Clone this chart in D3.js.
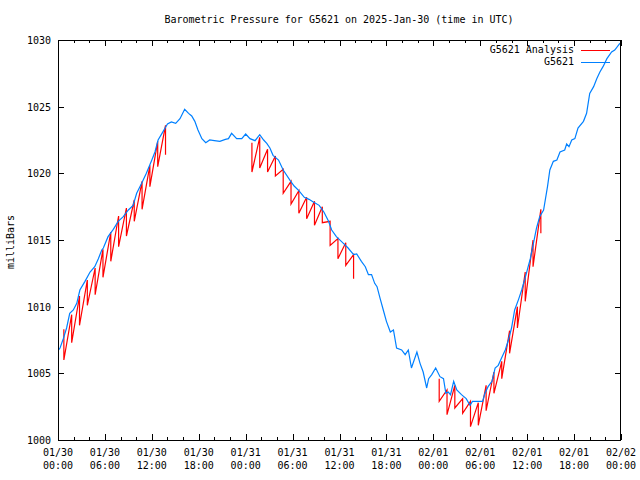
<!DOCTYPE html>
<html><head><meta charset="utf-8">
<script src="https://cdn.jsdelivr.net/npm/d3@7"></script>
<style>
body{margin:0;background:#fff}
text{font-family:"DejaVu Sans Mono",monospace;font-size:10px;fill:#000}
</style>
</head><body><svg id="c" width="640" height="480"></svg>
<script>
const title = "Barometric Pressure for G5621 on 2025-Jan-30 (time in UTC)";
const yLabel = "milliBars";
const seriesNames = ["G5621 Analysis", "G5621"];
const startDate = "2025-01-30T00:00:00Z";
const endDate = "2025-02-02T00:00:00Z";
const yTicks = [1000, 1005, 1010, 1015, 1020, 1025, 1030];

// Observed series (hours after start, mb)
const obsHours = [0.0,0.26,0.68,1.1,1.5,1.96,2.4,2.8,3.45,4.1,4.7,5.16,5.6,5.8,6.4,7.07,7.7,8.35,9.0,9.6,10.06,10.7,11.3,12.0,12.4,12.8,13.3,13.7,14.0,14.5,15.05,15.6,16.2,16.7,17.1,17.5,17.9,18.4,18.9,19.4,20.0,20.7,21.4,21.8,22.2,22.85,23.5,24.0,24.55,25.2,25.8,26.3,26.7,27.1,27.5,28.2,28.8,29.7,30.2,30.8,31.5,32.1,32.65,33.4,34.0,34.6,35.0,35.6,36.5,37.1,37.8,38.2,38.8,39.3,39.7,40.1,40.5,40.8,41.2,41.6,42.0,42.5,42.9,43.3,43.95,44.4,44.8,45.2,45.9,46.3,46.7,47.15,47.4,47.8,48.3,48.85,49.3,49.6,49.9,50.2,50.6,51.0,51.6,52.2,52.7,53.0,53.5,54.0,54.3,54.6,55.0,55.5,55.9,56.3,56.8,57.2,57.6,58.0,58.4,58.9,59.3,59.9,60.4,60.8,61.2,61.6,62.1,62.6,62.9,63.35,63.8,64.2,64.8,65.05,65.35,65.7,66.1,66.5,67.2,67.6,68.0,68.5,68.9,69.3,69.7,70.2,70.8,71.2,71.8,72.0];
const obsValues = [1006.7,1006.9,1007.6,1008.4,1009.5,1009.75,1010.25,1011.25,1011.9,1012.6,1013.0,1013.6,1014.25,1014.4,1015.25,1015.8,1016.4,1016.75,1017.25,1017.6,1018.5,1019.25,1020.0,1021.0,1021.6,1022.5,1023.0,1023.4,1023.7,1023.85,1023.75,1024.1,1024.8,1024.5,1024.3,1023.9,1023.25,1022.6,1022.3,1022.5,1022.45,1022.4,1022.55,1022.6,1023.0,1022.6,1022.6,1022.95,1022.6,1022.45,1022.9,1022.5,1022.25,1021.9,1021.35,1021.0,1020.25,1019.45,1019.05,1018.7,1018.2,1018.05,1017.85,1017.6,1017.1,1016.4,1015.75,1015.25,1014.75,1014.4,1013.9,1013.95,1013.4,1013.0,1012.4,1012.4,1011.75,1011.5,1010.6,1009.75,1008.9,1008.1,1008.25,1006.9,1006.75,1006.4,1006.75,1005.4,1006.6,1005.75,1005.1,1003.9,1004.6,1004.9,1005.4,1004.75,1004.6,1003.5,1003.6,1003.4,1004.4,1003.75,1003.4,1003.1,1002.6,1002.9,1002.9,1002.9,1002.9,1003.5,1004.0,1004.4,1005.4,1005.6,1006.25,1006.75,1007.5,1008.4,1009.75,1010.55,1011.25,1012.5,1013.6,1014.75,1015.9,1016.75,1017.25,1019.0,1020.25,1020.9,1021.0,1021.6,1021.75,1022.2,1022.0,1022.5,1022.6,1023.4,1023.9,1024.5,1026.0,1026.5,1027.1,1027.6,1028.0,1028.6,1029.1,1029.25,1029.7,1029.8];

// Analysis series: at each hour a high value and a low value
const anaHours = [0.75,1.75,2.75,3.75,4.75,5.75,6.75,7.75,8.75,9.75,10.75,11.75,12.75,13.75,
  24.8,25.8,26.8,27.8,28.8,29.8,30.8,31.8,32.8,33.8,34.8,35.8,36.8,37.8,
  48.75,49.75,50.75,51.75,52.75,53.75,54.75,55.75,56.75,57.75,58.75,59.75,60.75,61.75];
const anaHigh = [1008.3,1009.4,1010.8,1012.0,1012.9,1014.3,1015.6,1016.8,1017.4,1018.0,1019.4,1020.6,1022.4,1023.6,
  1022.3,1022.7,1021.8,1021.3,1020.3,1019.4,1018.7,1018.2,1017.9,1017.5,1016.4,1015.1,1014.8,1013.9,
  1004.6,1003.75,1004.1,1003.1,1002.9,1002.8,1004.1,1005.1,1005.9,1008.2,1010.0,1012.6,1015.0,1017.3];
const anaLow = [1006.0,1007.3,1008.6,1010.1,1010.9,1012.2,1013.4,1014.5,1015.3,1016.4,1017.3,1019.0,1020.5,1021.4,
  1020.1,1020.4,1020.1,1019.8,1018.5,1017.7,1017.0,1016.6,1016.1,1016.3,1014.6,1013.6,1013.1,1012.1,
  1002.9,1001.9,1002.4,1002.0,1001.0,1001.1,1002.2,1003.5,1004.6,1006.5,1008.4,1010.4,1013.0,1015.5];

const colors = ["#ff0000", "#0080ff"];

const svg = d3.select("#c");
const L = 58, R = 621, T = 40, B = 440;
const t0 = new Date(startDate), t1 = new Date(endDate);
const toDate = h => new Date(t0.getTime() + h * 3600e3);
const x = d3.scaleUtc().domain([t0, t1]).range([L, R]);
const y = d3.scaleLinear().domain([1000, 1030]).range([B, T]);

svg.append("rect").attr("width", 640).attr("height", 480).attr("fill", "#fff");

// Title & y label
svg.append("text").attr("x", 339).attr("y", 20).attr("text-anchor", "middle")
  .attr("dominant-baseline", "middle").text(title);
svg.append("text").attr("transform", "translate(11,242) rotate(-90)")
  .attr("text-anchor", "middle").attr("dominant-baseline", "middle").text(yLabel);

// Axes ticks (inward, mirrored)
const majorX = x.ticks(d3.utcHour.every(6));
const minorX = x.ticks(d3.utcHour.every(2));
const axG = svg.append("g").attr("shape-rendering", "crispEdges");
function tickLines(g, axis) { g.call(axis); g.select(".domain").remove(); g.selectAll("text").remove(); g.selectAll("line").attr("stroke", "#000"); }
axG.append("g").attr("transform", `translate(0,${B})`).call(g => tickLines(g, d3.axisBottom(x).tickValues(minorX).tickSize(-3)));
axG.append("g").attr("transform", `translate(0,${T})`).call(g => tickLines(g, d3.axisTop(x).tickValues(minorX).tickSize(-3)));
axG.append("g").attr("transform", `translate(0,${B})`).call(g => tickLines(g, d3.axisBottom(x).tickValues(majorX).tickSize(-6)));
axG.append("g").attr("transform", `translate(0,${T})`).call(g => tickLines(g, d3.axisTop(x).tickValues(majorX).tickSize(-6)));
axG.append("g").attr("transform", `translate(${L},0)`).call(g => tickLines(g, d3.axisLeft(y).tickValues(yTicks).tickSize(-6)));
axG.append("g").attr("transform", `translate(${R},0)`).call(g => tickLines(g, d3.axisRight(y).tickValues(yTicks).tickSize(-6)));

// Tick labels
const fmtD = d3.utcFormat("%m/%d"), fmtH = d3.utcFormat("%H:%M");
majorX.forEach(d => {
  svg.append("text").attr("x", x(d)).attr("y", 453).attr("text-anchor", "middle").attr("dominant-baseline", "middle").text(fmtD(d));
  svg.append("text").attr("x", x(d)).attr("y", 466).attr("text-anchor", "middle").attr("dominant-baseline", "middle").text(fmtH(d));
});
yTicks.forEach(v => {
  svg.append("text").attr("x", 51).attr("y", y(v) + 1).attr("text-anchor", "end").attr("dominant-baseline", "middle").text(v);
});

// Analysis series: split into segments
const segs = [];
let cur = [];
anaHours.forEach((h, i) => {
  if (i > 0 && h - anaHours[i - 1] > 1.5) { segs.push(cur); cur = []; }
  cur.push({ t: toDate(h), v: anaHigh[i] });
  cur.push({ t: toDate(h), v: anaLow[i] });
});
segs.push(cur);
const line = d3.line().x(d => x(d.t)).y(d => y(d.v));
const clip = svg.append("defs").append("clipPath").attr("id", "pc").append("rect")
  .attr("x", L).attr("y", T).attr("width", R - L).attr("height", B - T);
const plot = svg.append("g").attr("clip-path", "url(#pc)");
segs.forEach(s => plot.append("path").datum(s).attr("d", line).attr("fill", "none")
  .attr("stroke", colors[0]).attr("stroke-width", 1.2));
const obs = obsHours.map((h, i) => ({ t: toDate(h), v: obsValues[i] }));
plot.append("path").datum(obs).attr("d", line).attr("fill", "none")
  .attr("stroke", colors[1]).attr("stroke-width", 1.2);

// Frame
svg.append("rect").attr("x", L + 0.5).attr("y", T + 0.5).attr("width", R - L - 1).attr("height", B - T)
  .attr("fill", "none").attr("stroke", "#000").attr("shape-rendering", "crispEdges");

// Legend
const legY = [50, 62];
seriesNames.forEach((n, i) => {
  svg.append("text").attr("x", 574).attr("y", legY[i]).attr("text-anchor", "end").attr("dominant-baseline", "middle").text(n);
  svg.append("line").attr("x1", 581).attr("x2", 610).attr("y1", legY[i] + 0.5).attr("y2", legY[i] + 0.5)
    .attr("stroke", colors[i]).attr("shape-rendering", "crispEdges");
});
</script>
</body></html>
